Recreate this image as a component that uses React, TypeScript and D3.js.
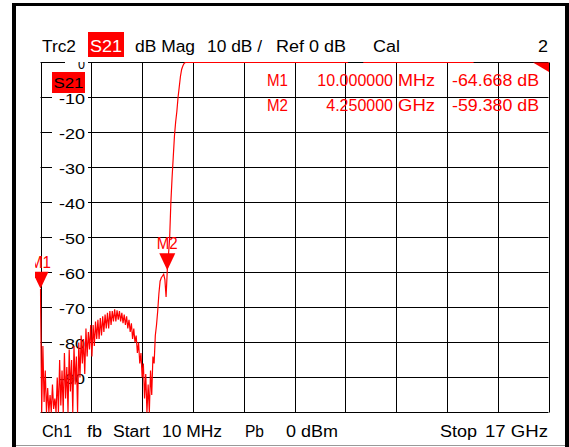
import React from "react";
import * as d3 from "d3";

// ---- data ----
const startGHz = 0.01;
const stopGHz = 17;
const sweepStepGHz = 0.04; // low band sweep points
const lowBandDb = [
  -64.7, -100, -81, -97, -88, -100, -93, -100, -95, -100,
  -92, -99, -96, -100, -90, -100, -85, -98, -88, -100,
  -83, -96, -87, -100, -82, -94, -85, -100, -81, -92,
  -84, -100, -80, -90, -78, -86, -79, -89, -76, -84,
  -77, -82, -75, -84, -75, -81, -74, -79, -73.5, -79,
  -73, -78, -72.5, -77, -72, -76, -71.5, -76, -71, -75,
  -71, -74, -70.5, -74, -70.8, -73.5, -71, -74, -71.5, -74.5,
  -72, -75, -72.5, -76, -73.5, -77, -74.5, -79, -76, -80,
  -78, -83, -80, -86, -83, -90, -86, -96, -89, -100,
  -92, -100, -88, -95, -84, -86, -78, -75, -71, -66,
  -62.5, -61.5, -61, -60.5, -62, -67, -59.4, -55, -50, -40,
  -33, -27, -21, -17, -14, -10, -7, -4, -2, -1,
  -0.3, 0,
];
const passbandFreqGHz = [5.5, 8, 10.27, 10.3, 10.8, 10.83, 14.47, 14.5, 17];
const passbandDb = [0, 0, 0, 0.3, 0.3, 0, 0, 0.3, 0.3];

const yTicksDb = [0, -10, -20, -30, -40, -50, -60, -70, -80, -90, -100];
const yLabelDb = [0, -10, -20, -30, -40, -50, -60, -70, -80, -90];
const xDivisions = 10;

const markerNames = ["M1", "M2"];
const markerFreqGHz = [0.01, 4.25];
const markerDb = [-64.668, -59.38];
const markerFreqText = ["10.000000", "4.250000"];
const markerUnitText = ["MHz", "GHz"];
const markerDbText = ["-64.668 dB", "-59.380 dB"];

const RED = "#ff0000";
const FONT = "'Liberation Sans', Arial, sans-serif";

export default function App() {
  const x = d3.scaleLinear().domain([startGHz, stopGHz]).range([40.5, 548.5]);
  const y = d3.scaleLinear().domain([-100, 0]).range([412.5, 62.5]);

  const tracePts: [number, number][] = [
    ...lowBandDb.map((db, i) => [startGHz + i * sweepStepGHz, db] as [number, number]),
    ...passbandFreqGHz.map((f, i) => [f, passbandDb[i]] as [number, number]),
  ];
  const line = d3
    .line<[number, number]>()
    .x((d) => x(d[0]))
    .y((d) => y(d[1]));

  const xGrid = d3.range(xDivisions + 1).map((k) => startGHz + (k * (stopGHz - startGHz)) / xDivisions);

  const T = (props: any) => (
    <text fontFamily={FONT} fontSize={16} lengthAdjust="spacingAndGlyphs" {...props} />
  );

  return (
    <svg
      width={569}
      height={447}
      style={{ position: "fixed", left: 0, top: 0, background: "#fff" }}
    >
      <defs>
        <clipPath id="plotClip">
          <rect x={39.5} y={62} width={510} height={352} />
        </clipPath>
        <clipPath id="m1Clip">
          <rect x={35} y={0} width={530} height={447} />
        </clipPath>
        <clipPath id="zeroClip">
          <rect x={0} y={62} width={569} height={40} />
        </clipPath>
      </defs>
      <rect x={0} y={0} width={569} height={447} fill="#fff" />

      {/* frame */}
      <rect x={12} y={3} width={557} height={3} fill="#000" />
      <rect x={12} y={3} width={4} height={444} fill="#000" />
      <rect x={565} y={3} width={4} height={444} fill="#000" />
      <line x1={16} x2={565} y1={445.5} y2={445.5} stroke="#999" strokeWidth={1} />

      {/* title row */}
      <T x={42} y={52} textLength={34}>Trc2</T>
      <rect x={88} y={32} width={36} height={25} fill={RED} />
      <T x={90} y={52} textLength={32} fill="#fff">S21</T>
      <T x={135} y={52} textLength={60}>dB Mag</T>
      <T x={207} y={52} textLength={55}>10 dB /</T>
      <T x={276} y={52} textLength={70}>Ref 0 dB</T>
      <T x={373} y={52} textLength={27}>Cal</T>
      <T x={538} y={52} textLength={10}>2</T>

      {/* grid */}
      {xGrid.map((f, k) => (
        <line
          key={"vx" + k}
          x1={Math.round(x(f)) + 0.5}
          x2={Math.round(x(f)) + 0.5}
          y1={y(0)}
          y2={y(-100)}
          stroke="#000"
          strokeWidth={1}
        />
      ))}
      {yTicksDb.map((db) => (
        <line
          key={"hy" + db}
          x1={40.5}
          x2={548.5}
          y1={y(db)}
          y2={y(db)}
          stroke="#000"
          strokeWidth={1}
        />
      ))}

      {/* y labels */}
      {yLabelDb.map((db) => {
        const w = db === 0 ? 7 : 26;
        const bx = db === 0 ? 65 : 52;
        return (
          <g key={"yl" + db} clipPath={db === 0 ? "url(#zeroClip)" : undefined}>
            <rect x={bx} y={y(db) - 6} width={88 - bx} height={12} fill="#fff" />
            <T x={85 - w} y={y(db) + 6.5} textLength={w} fontSize={15}>
              {String(db)}
            </T>
          </g>
        );
      })}

      {/* S21 label box on axis */}
      <rect x={52} y={72} width={33} height={21} fill={RED} />
      <T x={53.5} y={88} textLength={30} fontSize={14} fill="#000">S21</T>

      {/* trace */}
      <g clipPath="url(#plotClip)">
        <path d={line(tracePts) || ""} fill="none" stroke={RED} strokeWidth={1.2} />
      </g>
      <polygon points="533,62.5 549,62.5 549,72" fill={RED} />

      {/* markers on trace */}
      {markerNames.map((m, i) => {
        const mx = x(markerFreqGHz[i]);
        const my = y(markerDb[i]);
        return (
          <g key={m} clipPath="url(#m1Clip)">
            <polygon points={`${mx - 8},${my - 17} ${mx + 8},${my - 17} ${mx},${my}`} fill={RED} />
            <T x={mx - 10.5} y={my - 21} textLength={21} fill={RED}>
              {m}
            </T>
          </g>
        );
      })}

      {/* marker table */}
      {markerNames.map((m, i) => {
        const by = 86 + i * 25;
        return (
          <g key={"tab" + m} fill={RED}>
            <T x={267} y={by} textLength={21} fill={RED}>{m}</T>
            <T x={393} y={by} textAnchor="end" fill={RED}>
              {markerFreqText[i]}
            </T>
            <T x={398} y={by} textLength={37} fill={RED}>{markerUnitText[i]}</T>
            <T x={452} y={by} textLength={87} fill={RED}>{markerDbText[i]}</T>
          </g>
        );
      })}

      {/* bottom row */}
      <T x={42} y={437} textLength={30}>Ch1</T>
      <T x={87} y={437} textLength={15}>fb</T>
      <T x={113} y={437} textLength={37}>Start</T>
      <T x={162} y={437} textLength={60}>10 MHz</T>
      <T x={245} y={437} textLength={19}>Pb</T>
      <T x={286} y={437} textLength={52}>0 dBm</T>
      <T x={440} y={437} textLength={37}>Stop</T>
      <T x={485} y={437} textLength={63}>17 GHz</T>
    </svg>
  );
}
